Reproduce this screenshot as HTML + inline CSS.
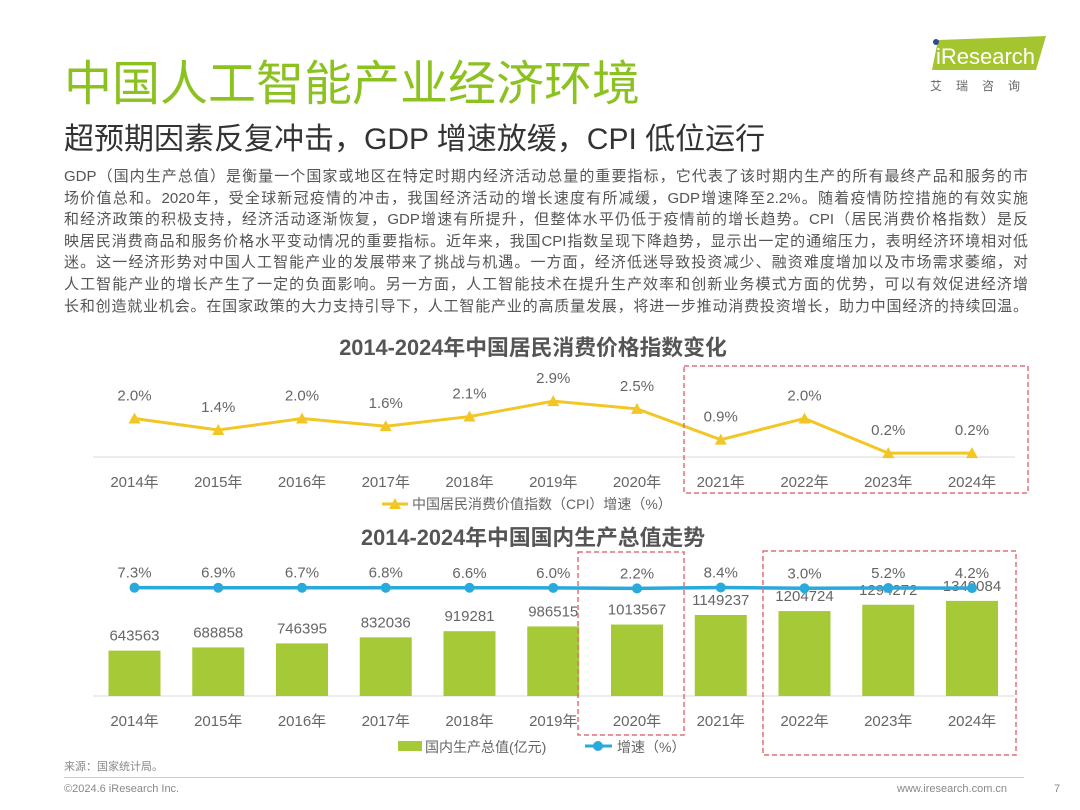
<!DOCTYPE html>
<html><head><meta charset="utf-8">
<style>
body{margin:0;background:#fff;}
#page{position:relative;width:1080px;height:810px;overflow:hidden;font-family:"Liberation Sans","Noto Sans CJK SC",sans-serif;}
.t{position:absolute;white-space:nowrap;}
.pl{height:21.6px;line-height:21.6px;text-align:justify;text-align-last:justify;overflow:hidden;}
</style></head>
<body>
<div id="page">
<div class="t" style="left:64px;top:44px;font-size:48px;color:#8cc220;">中国人工智能产业经济环境</div>
<div class="t" style="left:64px;top:114px;font-size:30px;color:#333;">超预期因素反复冲击，GDP 增速放缓，CPI 低位运行</div>
<div style="position:absolute;left:928px;top:36px;width:122px;height:36px;">
<svg width="122" height="36"><polygon points="10,4 118,0 108,34 4,34" fill="#a5c530"/><circle cx="8" cy="6" r="3" fill="#2a4d9b"/><text x="8" y="28" font-size="22" fill="#fff" font-family="Liberation Sans">iResearch</text></svg>
</div>
<div class="t" style="left:930px;top:77px;font-size:12px;color:#666;letter-spacing:14px;">艾瑞咨询</div>
<div style="position:absolute;left:64px;top:166px;width:964px;font-size:15px;color:#555;">
<div class="pl">GDP（国内生产总值）是衡量一个国家或地区在特定时期内经济活动总量的重要指标，它代表了该时期内生产的所有最终产品和服务的市</div>
<div class="pl">场价值总和。2020年，受全球新冠疫情的冲击，我国经济活动的增长速度有所减缓，GDP增速降至2.2%。随着疫情防控措施的有效实施</div>
<div class="pl">和经济政策的积极支持，经济活动逐渐恢复，GDP增速有所提升，但整体水平仍低于疫情前的增长趋势。CPI（居民消费价格指数）是反</div>
<div class="pl">映居民消费商品和服务价格水平变动情况的重要指标。近年来，我国CPI指数呈现下降趋势，显示出一定的通缩压力，表明经济环境相对低</div>
<div class="pl">迷。这一经济形势对中国人工智能产业的发展带来了挑战与机遇。一方面，经济低迷导致投资减少、融资难度增加以及市场需求萎缩，对</div>
<div class="pl">人工智能产业的增长产生了一定的负面影响。另一方面，人工智能技术在提升生产效率和创新业务模式方面的优势，可以有效促进经济增</div>
<div class="pl">长和创造就业机会。在国家政策的大力支持引导下，人工智能产业的高质量发展，将进一步推动消费投资增长，助力中国经济的持续回温。</div>
</div>
<svg id="ch" width="1080" height="810" style="position:absolute;left:0;top:0;"></svg>
<div class="t" style="left:64px;top:758px;font-size:11px;color:#888;">来源：国家统计局。</div>
<div style="position:absolute;left:64px;top:777px;width:960px;height:1px;background:#ccc;"></div>
<div class="t" style="left:64px;top:783px;font-size:11px;color:#888;">©2024.6 iResearch Inc.</div>
<div class="t" style="left:897px;top:783px;font-size:11px;color:#888;">www.iresearch.com.cn</div>
<div class="t" style="left:1054px;top:783px;font-size:11px;color:#888;">7</div>
</div>
<script>
const years=["2014年","2015年","2016年","2017年","2018年","2019年","2020年","2021年","2022年","2023年","2024年"];
const cpi=[2.0,1.4,2.0,1.6,2.1,2.9,2.5,0.9,2.0,0.2,0.2];
const gdp=[643563,688858,746395,832036,919281,986515,1013567,1149237,1204724,1294272,1349084];
const gdpGrowth=[7.3,6.9,6.7,6.8,6.6,6.0,2.2,8.4,3.0,5.2,4.2];
const svg=document.getElementById('ch');const NS='http://www.w3.org/2000/svg';
function mk(tag,at,txt){const e=document.createElementNS(NS,tag);for(const k in at)e.setAttribute(k,at[k]);if(txt!=null)e.textContent=txt;svg.appendChild(e);return e;}
const xc=i=>134.5+i*83.75;
const yCpi=v=>457-v*19.26;
const yBar=v=>696-v*7.05e-5;
const yGr=v=>588-(v-5)*0.15;
const F='Liberation Sans, Noto Sans CJK SC, sans-serif';
let e;
e=mk('text',{x:533,y:355,'text-anchor':'middle','font-size':21.8,'font-weight':'bold',fill:'#555','font-family':F},'2014-2024年中国居民消费价格指数变化');

e=mk('line',{x1:93,x2:1015,y1:457,y2:457,stroke:'#d9d9d9'});

e=mk('polyline',{points:cpi.map((v,i)=>xc(i)+','+yCpi(v)).join(' '),fill:'none',stroke:'#f2c625','stroke-width':3});

cpi.forEach((v,i)=>{
 e=mk('polygon',{points:`${xc(i)-6},${yCpi(v)+5} ${xc(i)+6},${yCpi(v)+5} ${xc(i)},${yCpi(v)-6}`,fill:'#f2c625'});
 
 e=mk('text',{x:xc(i),y:yCpi(v)-18,'text-anchor':'middle','font-size':15,fill:'#666','font-family':F},v.toFixed(1)+'%');
 
 e=mk('text',{x:xc(i),y:487,'text-anchor':'middle','font-size':15,fill:'#666','font-family':F},years[i]);
 
});
e=mk('line',{x1:382,x2:408,y1:504,y2:504,stroke:'#f2c625','stroke-width':3});

e=mk('polygon',{points:'389,509 401,509 395,498',fill:'#f2c625'});

e=mk('text',{x:412,y:509,'font-size':14,fill:'#666','font-family':F},'中国居民消费价值指数（CPI）增速（%）');

e=mk('rect',{x:684,y:366,width:344,height:127,fill:'none',stroke:'#e0707a','stroke-width':1.5,'stroke-dasharray':'5,3'});

e=mk('text',{x:533,y:545,'text-anchor':'middle','font-size':21.8,'font-weight':'bold',fill:'#555','font-family':F},'2014-2024年中国国内生产总值走势');

e=mk('line',{x1:93,x2:1015,y1:696,y2:696,stroke:'#d9d9d9'});

gdp.forEach((v,i)=>{
 e=mk('rect',{x:xc(i)-26,y:yBar(v),width:52,height:696-yBar(v),fill:'#a6c938'});
 
 e=mk('text',{x:xc(i),y:yBar(v)-10,'text-anchor':'middle','font-size':15,fill:'#666','font-family':F},String(v));
 
 e=mk('text',{x:xc(i),y:726,'text-anchor':'middle','font-size':15,fill:'#666','font-family':F},years[i]);
 
});
e=mk('polyline',{points:gdpGrowth.map((v,i)=>xc(i)+','+yGr(v)).join(' '),fill:'none',stroke:'#29a9dc','stroke-width':3.5});

gdpGrowth.forEach((v,i)=>{
 e=mk('circle',{cx:xc(i),cy:yGr(v),r:5,fill:'#29a9dc'});
 
 e=mk('text',{x:xc(i),y:yGr(v)-10,'text-anchor':'middle','font-size':15,fill:'#666','font-family':F},v.toFixed(1)+'%');
 
});
e=mk('rect',{x:398,y:741,width:24,height:10,fill:'#a6c938'});

e=mk('text',{x:425,y:752,'font-size':14,fill:'#666','font-family':F},'国内生产总值(亿元)');

e=mk('line',{x1:585,x2:612,y1:746,y2:746,stroke:'#29a9dc','stroke-width':3});

e=mk('circle',{cx:598,cy:746,r:5,fill:'#29a9dc'});

e=mk('text',{x:617,y:752,'font-size':14,fill:'#666','font-family':F},'增速（%）');

e=mk('rect',{x:578,y:552,width:106,height:183,fill:'none',stroke:'#e0707a','stroke-width':1.5,'stroke-dasharray':'5,3'});

e=mk('rect',{x:763,y:551,width:253,height:204,fill:'none',stroke:'#e0707a','stroke-width':1.5,'stroke-dasharray':'5,3'});

</script>
</body></html>
